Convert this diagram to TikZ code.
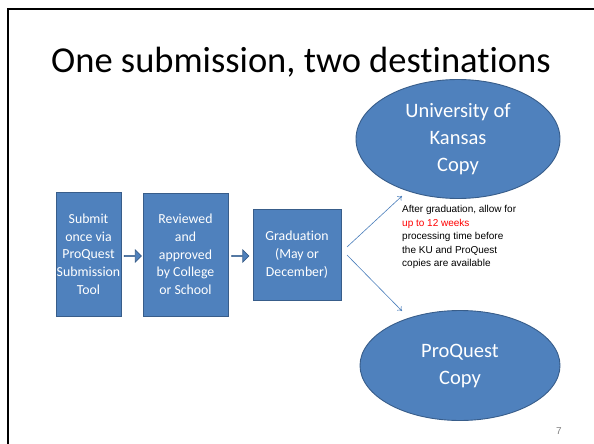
\documentclass[tikz,border=0pt]{standalone}
\usepackage{fontspec}
\setmainfont{Carlito}[Ligatures={NoCommon}]
\newfontfamily\arialf{Liberation Sans}
\usetikzlibrary{shapes.geometric,shapes.arrows,arrows.meta}
\definecolor{ofill}{HTML}{4F81BD}
\definecolor{oline}{HTML}{385D8A}
\definecolor{conn}{HTML}{4A7EBB}
\tikzset{
  x=1pt,y=-1pt,
  stepbox/.style={draw=oline,line width=0.9pt,fill=ofill,text=white,align=center,inner sep=0pt,
    font=\fontsize{13.8}{17.7}\selectfont},
  dest/.style={ellipse,draw=oline,line width=0.9pt,fill=ofill,text=white,align=center,inner sep=0pt,
    font=\fontsize{20.5}{27}\selectfont},
  blockarrow/.style={single arrow,draw=oline,line width=0.7pt,fill=ofill,minimum height=17pt,
    minimum width=12pt,single arrow head extend=3pt,inner sep=0pt},
  conn/.style={draw=conn,line width=0.6pt,-{To[length=4pt,width=6pt]}}
}
\begin{document}
\begin{tikzpicture}
\useasboundingbox (0,0) rectangle (594,444);
\draw[line width=2.2pt] (8,450) -- (8,9) -- (600,9);
\node[anchor=base,font=\fontsize{36.5}{40}\selectfont] (title) at (301,73) {One submission, two destinations};
\node[stepbox,minimum width=65pt,minimum height=124pt] (b1) at (88.5,254) {Submit\\once via\\ProQuest\\Submission\\Tool};
\node[stepbox,minimum width=85pt,minimum height=123pt] (b2) at (185.5,254.5) {Reviewed\\and\\approved\\by College\\or School};
\node[stepbox,minimum width=88pt,minimum height=91pt] (b3) at (297,254.5) {Graduation\\(May or\\December)};
\node[blockarrow] (a1) at (132.5,256) {};
\node[blockarrow] (a2) at (240,256) {};
\node[dest,minimum width=204pt,minimum height=119pt] (ku) at (458,139) {University of\\Kansas\\Copy};
\node[dest,minimum width=200pt,minimum height=110pt] (pq) at (460,365.5) {ProQuest\\Copy};
\coordinate (s1) at (347,247);
\coordinate (s2) at (347,255);
\coordinate (e1) at (402,196);
\coordinate (e2) at (402,311);
\draw[conn] (s1) -- (e1);
\draw[conn] (s2) -- (e2);
\node[anchor=north west,align=left,inner sep=0pt,font=\arialf\fontsize{10}{13.5}\selectfont] (note) at (402,205.5)
 {After graduation, allow for\\\textcolor{red}{up to 12 weeks}\\processing time before\\the KU and ProQuest\\copies are available};
\node[text=gray,font=\arialf\fontsize{10}{12}\selectfont] (pg) at (559,431) {7};
\end{tikzpicture}
\end{document}
